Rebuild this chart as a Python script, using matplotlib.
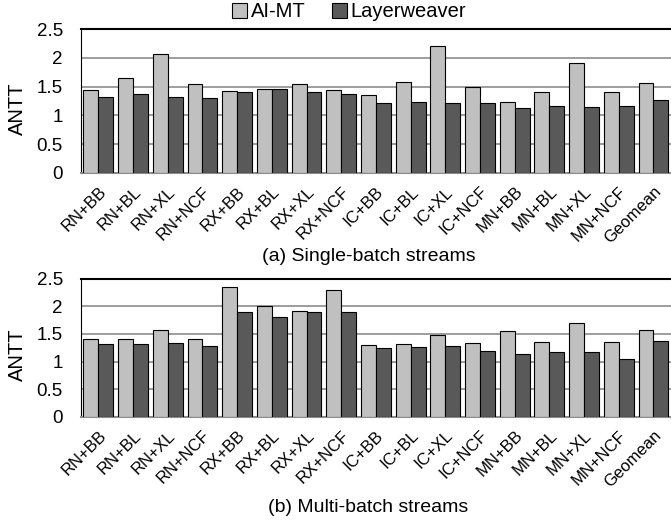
import numpy as np
import matplotlib
matplotlib.use('Agg')
import matplotlib.pyplot as plt
from matplotlib.patches import Patch

plt.rcParams['font.family'] = ['Liberation Sans', 'DejaVu Sans']

streams = ['RN+BB', 'RN+BL', 'RN+XL', 'RN+NCF', 'RX+BB', 'RX+BL', 'RX+XL', 'RX+NCF',
           'IC+BB', 'IC+BL', 'IC+XL', 'IC+NCF', 'MN+BB', 'MN+BL', 'MN+XL', 'MN+NCF', 'Geomean']

# ANTT, single-batch streams
single_aimt = [1.45, 1.65, 2.06, 1.54, 1.42, 1.46, 1.54, 1.45, 1.36, 1.59, 2.20, 1.50,
               1.23, 1.41, 1.91, 1.40, 1.56]
single_lw = [1.32, 1.37, 1.32, 1.31, 1.41, 1.46, 1.41, 1.37, 1.22, 1.23, 1.22, 1.22,
             1.13, 1.16, 1.14, 1.16, 1.27]

# ANTT, multi-batch streams
multi_aimt = [1.41, 1.41, 1.58, 1.41, 2.35, 2.00, 1.92, 2.29, 1.30, 1.31, 1.48, 1.33,
              1.55, 1.36, 1.69, 1.36, 1.58]
multi_lw = [1.32, 1.32, 1.34, 1.28, 1.89, 1.81, 1.89, 1.90, 1.25, 1.26, 1.29, 1.20,
            1.13, 1.17, 1.17, 1.05, 1.38]

yticks = [0, 0.5, 1, 1.5, 2, 2.5]
LIGHT = '#c0c0c0'
DARK = '#595959'

fig = plt.figure(figsize=(6.71, 5.21), dpi=100)
ax_a = fig.add_axes([0.1207, 0.668, 0.879, 0.276])
ax_b = fig.add_axes([0.1207, 0.200, 0.879, 0.265])

x = np.arange(len(streams))
w = 0.43

def draw_panel(ax, aimt, lw):
    ax.bar(x - w / 2, aimt, w, color=LIGHT, edgecolor='black', linewidth=0.8, zorder=3)
    ax.bar(x + w / 2, lw, w, color=DARK, edgecolor='black', linewidth=0.8, zorder=3)
    ax.set_xlim(-0.5, len(streams) - 0.5)
    ax.set_ylim(0, 2.5)
    ax.set_yticks(yticks)
    ax.set_yticklabels(['0', '0.5', '1', '1.5', '2', '2.5'], fontsize=13.5)
    ax.yaxis.grid(True, color='#8c8c8c', linewidth=1.2, zorder=0)
    ax.axhline(2.5, color='black', linewidth=1.5, zorder=4, clip_on=False)
    for s in ['right', 'top']:
        ax.spines[s].set_visible(False)
    ax.spines['left'].set_color('black')
    ax.spines['bottom'].set_color('#8c8c8c')
    ax.spines['bottom'].set_linewidth(1.5)
    ax.tick_params(axis='both', length=0)
    ax.tick_params(axis='y', pad=13)
    ax.set_xticks(x)
    ax.set_xticklabels(streams, rotation=45, ha='right', va='top',
                       rotation_mode='anchor', fontsize=12)
    ax.tick_params(axis='x', pad=8)
    ax.set_ylabel('ANTT', fontsize=14.5)
    ax.yaxis.set_label_coords(-0.092, 0.45)

draw_panel(ax_a, single_aimt, single_lw)
draw_panel(ax_b, multi_aimt, multi_lw)

fig.text(0.549, 1 - 257 / 521, '(a) Single-batch streams', ha='center', va='center', fontsize=14)
fig.text(0.549, 1 - 507 / 521, '(b) Multi-batch streams', ha='center', va='center', fontsize=14)

handles = [Patch(facecolor=LIGHT, edgecolor='black', linewidth=0.8),
           Patch(facecolor=DARK, edgecolor='black', linewidth=0.8)]
fig.legend(handles, ['AI-MT', 'Layerweaver'], loc='center', bbox_to_anchor=(0.52, 0.977),
           ncol=2, frameon=False, fontsize=14.5, handlelength=0.75, handleheight=0.75,
           handletextpad=0.2, columnspacing=1.3, borderaxespad=0)

fig.savefig('out.png', dpi=100)
